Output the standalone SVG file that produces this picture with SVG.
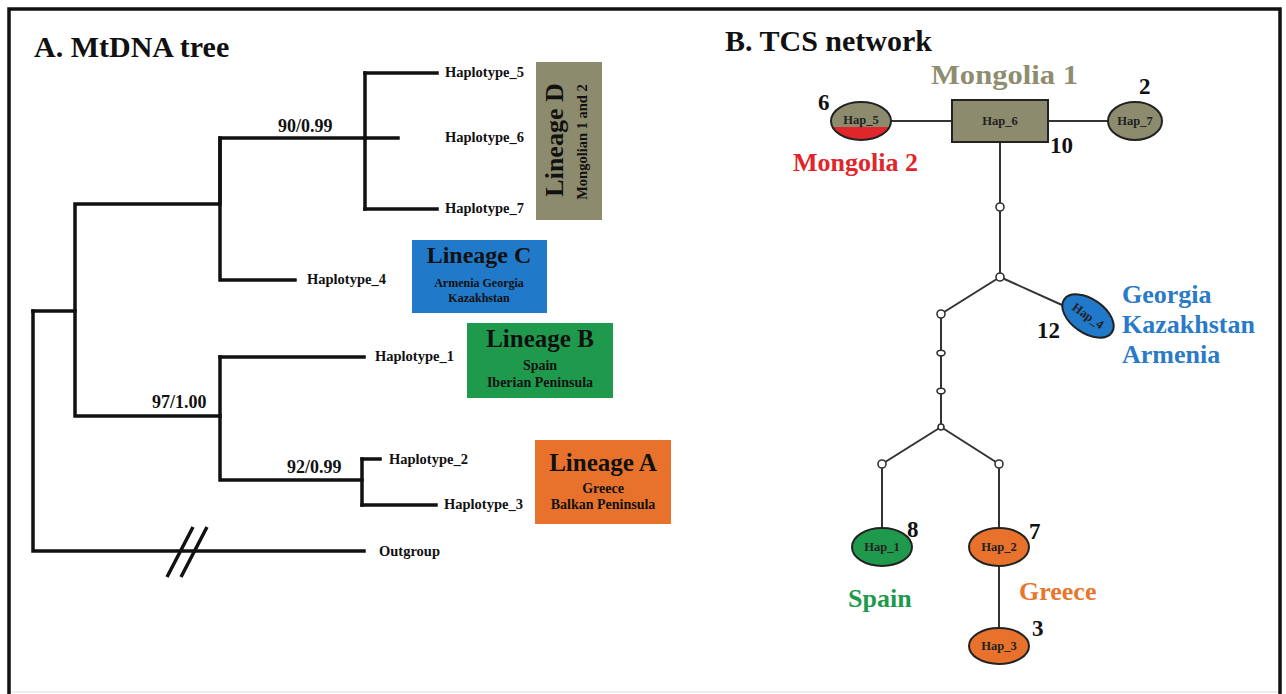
<svg xmlns="http://www.w3.org/2000/svg" width="1286" height="694" viewBox="0 0 1286 694">
  <style>
    text { font-family: "Liberation Serif", "Times New Roman", serif; font-weight: bold; fill: #111; }
    .title { font-size: 30px; }
    .hap { font-size: 14.5px; }
    .sup { font-size: 18px; }
    .lin { font-size: 25px; text-anchor: middle; }
    .sub { font-size: 14px; text-anchor: middle; }
    .tree { fill: none; stroke: #111; stroke-width: 3.5; stroke-linecap: square; }
    .net { fill: none; stroke: #333; stroke-width: 2; }
    .mv { fill: #fff; stroke: #333; stroke-width: 1.6; }
    .node { stroke: #222; stroke-width: 2; }
    .nlab { font-size: 12.5px; text-anchor: middle; fill: #222; }
    .cnt { font-size: 23px; }
    .reg { font-size: 26px; }
  </style>

  <!-- outer frame -->
  <rect x="9" y="9" width="1271" height="700" fill="#fff" stroke="#111" stroke-width="3.5"/>
  <line x1="11" y1="692" x2="1278" y2="692" stroke="#ddd" stroke-width="1"/>

  <!-- panel titles -->
  <text class="title" x="34" y="57">A. MtDNA tree</text>
  <text class="title" x="725" y="51">B. TCS network</text>

  <!-- A: tree branches -->
  <g id="tree-branches" class="tree">
    <path d="M33 311 V551 H364"/>
    <path d="M33 311 H75 V204 H220 V138 H365"/>
    <path d="M75 311 V416 H220"/>
    <path d="M220 138 V280 H295"/>
    <path d="M365 73 V209"/>
    <path d="M365 73 H437"/>
    <path d="M365 138 H398"/>
    <path d="M365 209 H437"/>
    <path d="M220 357 V480 H362"/>
    <path d="M220 357 H364"/>
    <path d="M362 459 V505"/>
    <path d="M362 459 H380"/>
    <path d="M362 505 H436"/>
    <!-- break on the outgroup branch -->
    <path d="M167 577 L193 527 M181 577 L207 527" stroke-linecap="butt"/>
  </g>

  <!-- support values -->
  <text class="sup" x="278" y="132">90/0.99</text>
  <text class="sup" x="152" y="408">97/1.00</text>
  <text class="sup" x="287" y="473">92/0.99</text>

  <!-- tip labels -->
  <text class="hap" x="445" y="77">Haplotype_5</text>
  <text class="hap" x="445" y="142">Haplotype_6</text>
  <text class="hap" x="445" y="213">Haplotype_7</text>
  <text class="hap" x="307" y="284">Haplotype_4</text>
  <text class="hap" x="375" y="361">Haplotype_1</text>
  <text class="hap" x="389" y="464">Haplotype_2</text>
  <text class="hap" x="444" y="509">Haplotype_3</text>
  <text class="hap" x="379" y="556">Outgroup</text>

  <!-- lineage boxes -->
  <g id="lineage-D">
    <rect x="536" y="62" width="66" height="158" fill="#8c8b6d"/>
    <text class="lin" transform="translate(563 140) rotate(-90)" style="font-size:26px">Lineage D</text>
    <text class="sub" transform="translate(587 142) rotate(-90)" style="font-size:14.5px">Mongolian 1 and 2</text>
  </g>
  <g id="lineage-C">
    <rect x="412" y="240" width="135" height="73" fill="#2179c9"/>
    <text class="lin" x="479" y="263" style="font-size:24px">Lineage C</text>
    <text class="sub" x="479" y="287" style="font-size:12px">Armenia Georgia</text>
    <text class="sub" x="479" y="302" style="font-size:12px">Kazakhstan</text>
  </g>
  <g id="lineage-B">
    <rect x="467" y="323" width="146" height="75" fill="#1f9a4d"/>
    <text class="lin" x="540" y="347">Lineage B</text>
    <text class="sub" x="540" y="370">Spain</text>
    <text class="sub" x="540" y="387">Iberian Peninsula</text>
  </g>
  <g id="lineage-A">
    <rect x="535" y="440" width="136" height="84" fill="#e8722c"/>
    <text class="lin" x="603" y="471">Lineage A</text>
    <text class="sub" x="603" y="493">Greece</text>
    <text class="sub" x="603" y="509">Balkan Peninsula</text>
  </g>

  <!-- B: network connectors -->
  <g id="network-edges" class="net">
    <path d="M890 121 H952"/>
    <path d="M1048 121 H1108"/>
    <path d="M1000 142 V277"/>
    <path d="M1000 277 L1062 305"/>
    <path d="M1000 277 L941 314 V427"/>
    <path d="M941 427 L882 464 V528"/>
    <path d="M941 427 L999 464 V528"/>
    <path d="M999 566 V628"/>
  </g>

  <!-- missing (median) haplotypes -->
  <g id="median-vectors">
    <circle class="mv" cx="1000" cy="207" r="4"/>
    <circle class="mv" cx="1000" cy="277" r="4"/>
    <circle class="mv" cx="941" cy="314" r="4"/>
    <ellipse class="mv" cx="941" cy="353" rx="4" ry="2.8"/>
    <ellipse class="mv" cx="941" cy="391" rx="4" ry="2.8"/>
    <circle class="mv" cx="941" cy="427" r="3"/>
    <circle class="mv" cx="882" cy="464" r="4"/>
    <circle class="mv" cx="999" cy="464" r="4"/>
  </g>

  <!-- haplotype nodes -->
  <defs>
    <clipPath id="hap5-clip"><ellipse cx="861" cy="121" rx="30" ry="19"/></clipPath>
  </defs>
  <g id="hap-5">
    <ellipse cx="861" cy="121" rx="30" ry="19" fill="#8c8b6d"/>
    <rect x="830" y="127" width="62" height="14" fill="#e0262a" clip-path="url(#hap5-clip)"/>
    <ellipse class="node" cx="861" cy="121" rx="30" ry="19" fill="none"/>
    <text class="nlab" x="861" y="124">Hap_5</text>
  </g>
  <g id="hap-6">
    <rect class="node" x="952" y="100" width="96" height="42" fill="#8c8b6d"/>
    <text class="nlab" x="1000" y="125">Hap_6</text>
  </g>
  <g id="hap-7">
    <ellipse class="node" cx="1135" cy="121" rx="27" ry="19" fill="#8c8b6d"/>
    <text class="nlab" x="1135" y="125">Hap_7</text>
  </g>
  <g id="hap-4">
    <ellipse class="node" cx="1088" cy="316" rx="29" ry="17" fill="#2179c9" transform="rotate(35 1088 316)"/>
    <text class="nlab" x="1088" y="320" transform="rotate(35 1088 316)">Hap_4</text>
  </g>
  <g id="hap-1">
    <ellipse class="node" cx="882" cy="547" rx="30" ry="19" fill="#1f9a4d"/>
    <text class="nlab" x="882" y="551">Hap_1</text>
  </g>
  <g id="hap-2">
    <ellipse class="node" cx="999" cy="547" rx="30" ry="19" fill="#e8722c"/>
    <text class="nlab" x="999" y="551">Hap_2</text>
  </g>
  <g id="hap-3">
    <ellipse class="node" cx="999" cy="646" rx="30" ry="18" fill="#e8722c"/>
    <text class="nlab" x="999" y="650">Hap_3</text>
  </g>

  <!-- sample counts -->
  <text class="cnt" x="818" y="110">6</text>
  <text class="cnt" x="1139" y="94">2</text>
  <text class="cnt" x="1050" y="153">10</text>
  <text class="cnt" x="1037" y="338">12</text>
  <text class="cnt" x="907" y="537">8</text>
  <text class="cnt" x="1029" y="539">7</text>
  <text class="cnt" x="1032" y="636">3</text>

  <!-- region labels -->
  <text class="reg" x="931" y="84" textLength="147" lengthAdjust="spacingAndGlyphs" style="fill:#8e8d6f;font-size:27px">Mongolia 1</text>
  <text class="reg" x="793" y="171" style="fill:#e0262a">Mongolia 2</text>
  <text class="reg" x="1122" y="303" style="fill:#2a7ac8">Georgia</text>
  <text class="reg" x="1122" y="333" style="fill:#2a7ac8">Kazakhstan</text>
  <text class="reg" x="1122" y="363" style="fill:#2a7ac8">Armenia</text>
  <text class="reg" x="848" y="607" style="fill:#1f9a4d">Spain</text>
  <text class="reg" x="1019" y="600" style="fill:#e8772e">Greece</text>
</svg>
